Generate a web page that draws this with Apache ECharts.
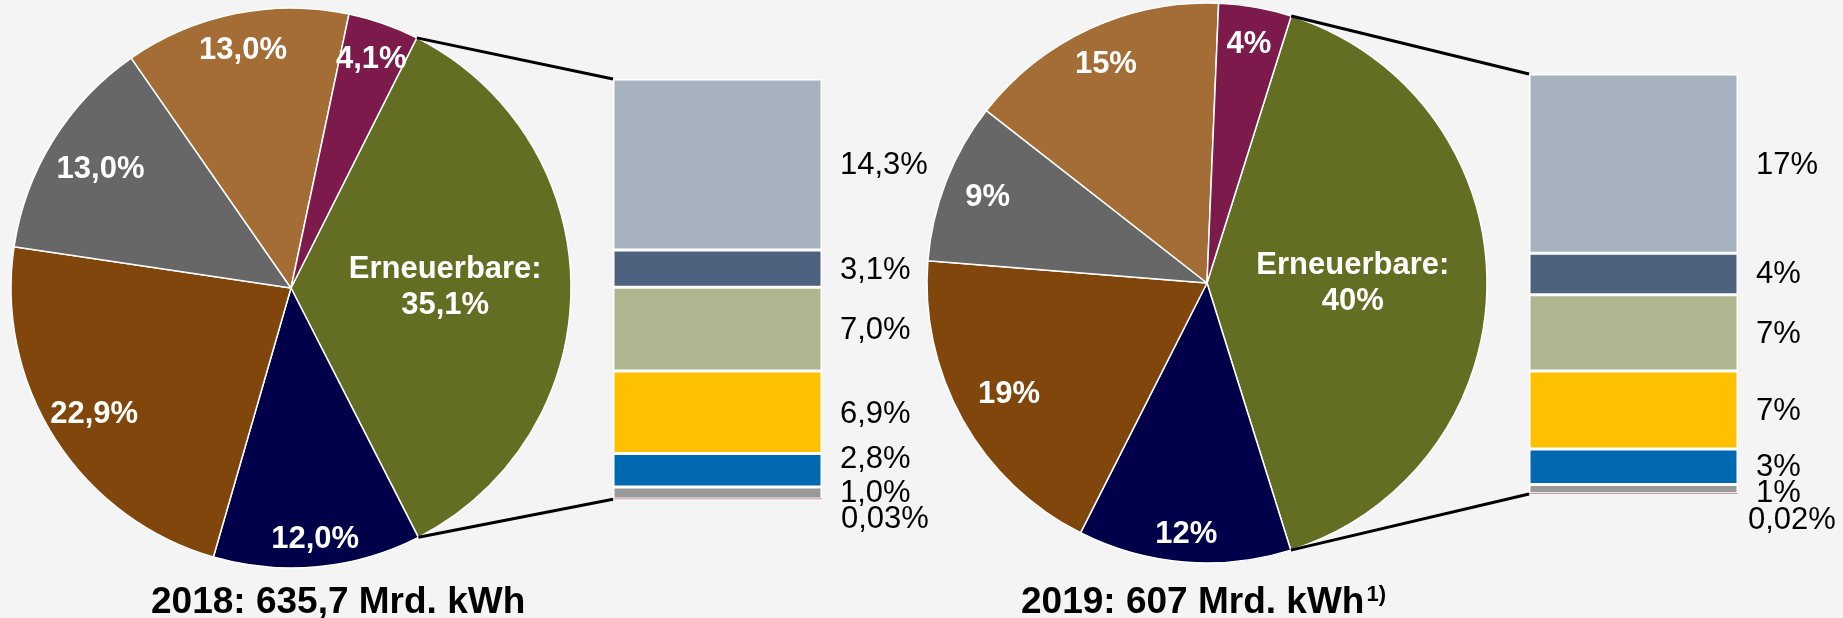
<!DOCTYPE html>
<html><head><meta charset="utf-8">
<script src="https://cdn.jsdelivr.net/npm/echarts@6/dist/echarts.min.js"></script>
<style>html,body{margin:0;padding:0;background:#F4F4F4}#c{width:1843px;height:618px}</style>
</head><body><div id="c"></div>
<script>
// ---------- data ----------
const pieNames = ['Erneuerbare', 'Kernenergie', 'Braunkohle', 'Steinkohle', 'Erdgas', 'Sonstige'];
const pie2018 = [35.1, 12.0, 22.9, 13.0, 13.0, 4.1];
const pie2019 = [40.3, 12.3, 18.8, 9.3, 15.1, 4.2];
const pieLabels2018 = ['Erneuerbare:\n35,1%', '12,0%', '22,9%', '13,0%', '13,0%', '4,1%'];
const pieLabels2019 = ['Erneuerbare:\n40%', '12%', '19%', '9%', '15%', '4%'];

// renewables breakdown, listed top to bottom
const renewNames = ['Wind an Land', 'Wind auf See', 'Biomasse', 'Photovoltaik', 'Wasserkraft', 'Siedlungsabfälle', 'Geothermie'];
const renew2018 = [14.3, 3.1, 7.0, 6.9, 2.8, 1.0, 0.03];
const renew2019 = [17.2, 4.0, 7.3, 7.5, 3.4, 0.9, 0.02];
const renewLabels2018 = ['14,3%', '3,1%', '7,0%', '6,9%', '2,8%', '1,0%', '0,03%'];
const renewLabels2019 = ['17%', '4%', '7%', '7%', '3%', '1%', '0,02%'];

const titles = ['2018: 635,7 Mrd. kWh', '2019: 607 Mrd. kWh'];
const titleNotes = ['', '1)'];

// ---------- styles / layout ----------
const FONT = "'Liberation Sans', Arial, sans-serif";
const pieColors = ['#636E22', '#00004A', '#80460B', '#676767', '#A36D35', '#7B1A4B'];
const barColors = ['#A7B2C0', '#4E627F', '#B1B58F', '#FFC000', '#0069B0', '#999999', '#C896AE'];

const panels = [
  { pie: pie2018, pieLabels: pieLabels2018, renew: renew2018, renewLabels: renewLabels2018,
    cx: 291, cy: 288, r: 280, start: 63.3,
    labelR: [0.54, 0.89, 0.825, 0.79, 0.855, 0.855],
    grid: { left: 613, top: 79, width: 209, bottom: 499.3 },
    labelDist: 18,
    labelOff: [[0, 1], [0, 2], [0, 1], [0, 2], [0, -11], [0, 0], [1, 21]],
    titleLeft: 151 },
  { pie: pie2019, pieLabels: pieLabels2019, renew: renew2019, renewLabels: renewLabels2019,
    cx: 1207, cy: 283, r: 280, start: 72.5,
    labelR: [0.51, 0.89, 0.80, 0.83, 0.85, 0.855],
    grid: { left: 1529, top: 74, width: 209, bottom: 494 },
    labelDist: 18,
    labelOff: [[0, 2], [0, 0], [0, 2], [0, 2], [0, 1], [0, 4], [-8, 27]],
    titleLeft: 1021 }
];

const sum = a => a.reduce((s, v) => s + v, 0);

const series = [], grids = [], xAxes = [], yAxes = [];

panels.forEach((P, k) => {
  // visible pie
  series.push({
    type: 'pie', silent: true, center: [P.cx, P.cy], radius: [0, P.r],
    startAngle: P.start, clockwise: true, animation: false,
    label: { show: false }, labelLine: { show: false },
    itemStyle: { borderColor: '#ffffff', borderWidth: 1.5 },
    emphasis: { disabled: true },
    data: P.pie.map((v, i) => ({ name: pieNames[i], value: v, itemStyle: { color: pieColors[i] } }))
  });
  // one transparent ring per slice, only to place that slice's label at its radius
  P.pie.forEach((_, j) => {
    const f = P.labelR[j];
    series.push({
      type: 'pie', silent: true, center: [P.cx, P.cy], radius: [(2 * f - 1) * P.r, P.r],
      startAngle: P.start, clockwise: true, animation: false, z: 5,
      labelLine: { show: false }, emphasis: { disabled: true },
      itemStyle: { color: 'rgba(0,0,0,0)', borderWidth: 0 },
      label: { show: false },
      data: P.pie.map((v, i) => ({
        name: pieNames[i], value: v,
        label: i === j ? {
          show: true, position: 'inside', formatter: P.pieLabels[i],
          color: '#ffffff', fontSize: 31, fontWeight: 'bold', fontFamily: FONT, lineHeight: 36
        } : { show: false }
      }))
    });
  });

  // stacked bar of renewables
  grids.push({ left: P.grid.left, top: P.grid.top, width: P.grid.width,
               height: P.grid.bottom - P.grid.top });
  xAxes.push({ gridIndex: k, type: 'category', data: ['EE'], show: false });
  yAxes.push({ gridIndex: k, type: 'value', min: 0, max: sum(P.renew), show: false });
  for (let i = P.renew.length - 1; i >= 0; i--) {
    const tiny = i === P.renew.length - 1;
    series.push({
      type: 'bar', xAxisIndex: k, yAxisIndex: k, stack: 'ee' + k, name: renewNames[i],
      barWidth: '100%', barCategoryGap: 0, animation: false, silent: true,
      z: tiny ? 4 : 2, barMinHeight: tiny ? 1 : 0,
      itemStyle: { color: barColors[i], borderColor: '#ffffff', borderWidth: tiny ? 0 : 1.5 },
      label: { show: true, position: 'right', distance: P.labelDist, formatter: P.renewLabels[i],
               offset: P.labelOff[i], color: '#000000', fontSize: 31, fontFamily: FONT },
      data: [P.renew[i]]
    });
  }
});

const chart = echarts.init(document.getElementById('c'), null, { renderer: 'canvas' });
chart.setOption({
  backgroundColor: '#F4F4F4',
  animation: false,
  title: panels.map((P, k) => ({
    text: '{m|' + titles[k] + '}' + (titleNotes[k] ? '{s|' + titleNotes[k] + '}' : ''),
    left: P.titleLeft, top: 584, padding: 0,
    textStyle: {
      rich: {
        m: { fontSize: 37, fontWeight: 'bold', color: '#000', fontFamily: FONT, lineHeight: 37 },
        s: { fontSize: 22, fontWeight: 'bold', color: '#000', fontFamily: FONT, lineHeight: 22,
             verticalAlign: 'top', padding: [0, 0, 0, 2] }
      }
    }
  })),
  grid: grids, xAxis: xAxes, yAxis: yAxes, series: series
});

// connector lines from the renewable slice edges to the bar corners
const graphics = [];
panels.forEach((P, k) => {
  const total = sum(P.pie);
  const a0 = P.start * Math.PI / 180;
  const a1 = (P.start - P.pie[0] / total * 360) * Math.PI / 180;
  const pTop = [P.cx + P.r * Math.cos(a0), P.cy - P.r * Math.sin(a0)];
  const pBot = [P.cx + P.r * Math.cos(a1), P.cy - P.r * Math.sin(a1)];
  const cTop = chart.convertToPixel({ xAxisIndex: k, yAxisIndex: k }, ['EE', sum(P.renew)]);
  const cBot = chart.convertToPixel({ xAxisIndex: k, yAxisIndex: k }, ['EE', 0]);
  const xl = cTop[0] - P.grid.width / 2;
  [[pTop, [xl, cTop[1]]], [pBot, [xl, cBot[1]]]].forEach(([a, b]) => {
    graphics.push({ type: 'line', silent: true, z: 10,
      shape: { x1: a[0], y1: a[1], x2: b[0], y2: b[1] },
      style: { stroke: '#000000', lineWidth: 3 } });
  });
});
chart.setOption({ graphic: graphics });
</script></body></html>
